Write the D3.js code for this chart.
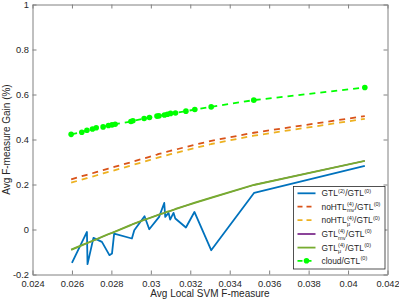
<!DOCTYPE html>
<html>
<head>
<meta charset="utf-8">
<script src="https://cdn.jsdelivr.net/npm/d3@7"></script>
<style>
  html, body { margin: 0; padding: 0; background: #fff; }
  svg { display: block; font-family: "Liberation Sans", Arial, Helvetica, sans-serif; }
</style>
</head>
<body>
<svg id="chart" width="399" height="299"></svg>
<script>
// ---------- data ----------
const xVals = [0.02596, 0.02650, 0.02676, 0.02704, 0.02723, 0.02758, 0.02785, 0.02803, 0.02819,
  0.02899, 0.02909, 0.02966, 0.02993, 0.03031, 0.03041, 0.03069, 0.03084, 0.03100, 0.03125,
  0.03178, 0.03223, 0.03306, 0.03522, 0.04085];
const cloudY = [0.423, 0.432, 0.441, 0.447, 0.452, 0.456, 0.462, 0.465, 0.468, 0.480, 0.483,
  0.493, 0.498, 0.504, 0.505, 0.509, 0.512, 0.516, 0.518, 0.526, 0.533, 0.545, 0.575, 0.631];
const noHtlMvY = [0.223, 0.237, 0.243, 0.250, 0.255, 0.264, 0.271, 0.275, 0.279, 0.299, 0.302,
  0.316, 0.323, 0.333, 0.336, 0.342, 0.346, 0.350, 0.355, 0.367, 0.377, 0.394, 0.430, 0.504];
const noHtlMuY = [0.208, 0.222, 0.228, 0.235, 0.240, 0.249, 0.256, 0.260, 0.264, 0.284, 0.287,
  0.301, 0.308, 0.318, 0.321, 0.327, 0.331, 0.335, 0.340, 0.352, 0.362, 0.380, 0.417, 0.492];
const gtlMvY = [-0.090, -0.070, -0.061, -0.051, -0.044, -0.031, -0.021, -0.015, -0.009, 0.020,
  0.024, 0.043, 0.051, 0.063, 0.066, 0.074, 0.079, 0.083, 0.091, 0.106, 0.119, 0.141, 0.198, 0.305];
const gtlMuY = [-0.090, -0.070, -0.061, -0.051, -0.044, -0.031, -0.021, -0.015, -0.009, 0.020,
  0.024, 0.043, 0.051, 0.063, 0.066, 0.074, 0.079, 0.083, 0.091, 0.106, 0.119, 0.141, 0.198, 0.305];
const gtl2X = [0.02600, 0.02676, 0.02679, 0.02709, 0.02752, 0.02790, 0.02803, 0.02814, 0.02904,
  0.02916, 0.02968, 0.02992, 0.03042, 0.03068, 0.03073, 0.03090, 0.03098, 0.03115, 0.03124,
  0.03178, 0.03221, 0.03306, 0.03524, 0.04085];
const gtl2Y = [-0.148, -0.011, -0.154, -0.037, -0.055, -0.114, -0.107, -0.018, -0.040, -0.003,
  0.059, 0.001, 0.056, 0.118, 0.056, 0.074, 0.044, 0.074, 0.049, 0.009, 0.078, -0.092, 0.163, 0.283];

const xTicks = [0.024, 0.026, 0.028, 0.030, 0.032, 0.034, 0.036, 0.038, 0.040, 0.042];
const xTickLabels = ["0.024", "0.026", "0.028", "0.03", "0.032", "0.034", "0.036", "0.038", "0.04", "0.042"];
const yTicks = [-0.2, 0, 0.2, 0.4, 0.6, 0.8, 1];
const yTickLabels = ["-0.2", "0", "0.2", "0.4", "0.6", "0.8", "1"];

const xLabel = "Avg Local SVM F-measure";
const yLabel = "Avg F-measure Gain (%)";

// ---------- layout ----------
const svg = d3.select("#chart");
const L = 32.5, R = 387.5, T = 4.5, B = 274.5;
const x = d3.scaleLinear().domain([0.024, 0.042]).range([L, R]);
const y = d3.scaleLinear().domain([-0.2, 1]).range([B, T]);
const axisColor = "#808080";
const textColor = "#262626";

const series = [
  { name: "gtl2", xs: gtl2X, ys: gtl2Y, color: "#0072BD", dash: null, marker: false, w: 1.8,
    label: [{ t: "GTL" }, { sup: "(2)" }, { t: "/GTL" }, { sup: "(0)" }] },
  { name: "noMv", xs: xVals, ys: noHtlMvY, color: "#D95319", dash: "6,5", marker: false, w: 1.8,
    label: [{ t: "noHTL" }, { sup: "(4)", sub: "mv" }, { t: "/GTL" }, { sup: "(0)" }] },
  { name: "noMu", xs: xVals, ys: noHtlMuY, color: "#EDB120", dash: "6,5", marker: false, w: 1.8,
    label: [{ t: "noHTL" }, { sup: "(4)", sub: "μ" }, { t: "/GTL" }, { sup: "(0)" }] },
  { name: "gtlMv", xs: xVals, ys: gtlMvY, color: "#7E2F8E", dash: null, marker: false, w: 1.2,
    label: [{ t: "GTL" }, { sup: "(4)", sub: "mv" }, { t: "/GTL" }, { sup: "(0)" }] },
  { name: "gtlMu", xs: xVals, ys: gtlMuY, color: "#77AC30", dash: null, marker: false, w: 1.9,
    label: [{ t: "GTL" }, { sup: "(4)", sub: "μ" }, { t: "/GTL" }, { sup: "(0)" }] },
  { name: "cloud", xs: xVals, ys: cloudY, color: "#00FF00", dash: "6,5", marker: true, w: 1.8,
    label: [{ t: "cloud/GTL" }, { sup: "(0)" }] }
];

// ---------- axes ----------
const g = svg.append("g");
const fmtX = (d, i) => xTickLabels[i];
const fmtY = (d, i) => yTickLabels[i];

const axB = g.append("g").attr("transform", `translate(0,${B})`)
  .call(d3.axisBottom(x).tickValues(xTicks).tickFormat(fmtX).tickSizeInner(-4).tickSizeOuter(0).tickPadding(5.5));
const axT = g.append("g").attr("transform", `translate(0,${T})`)
  .call(d3.axisTop(x).tickValues(xTicks).tickFormat("").tickSizeInner(-4).tickSizeOuter(0));
const axLft = g.append("g").attr("transform", `translate(${L},0)`)
  .call(d3.axisLeft(y).tickValues(yTicks).tickFormat(fmtY).tickSizeInner(-4).tickSizeOuter(0).tickPadding(3.5));
const axRgt = g.append("g").attr("transform", `translate(${R},0)`)
  .call(d3.axisRight(y).tickValues(yTicks).tickFormat("").tickSizeInner(-4).tickSizeOuter(0));

[axB, axT, axLft, axRgt].forEach(a => {
  a.selectAll(".domain").attr("stroke", axisColor).attr("stroke-width", 1);
  a.selectAll(".tick line").attr("stroke", axisColor);
  a.selectAll(".tick text").attr("fill", textColor).style("font-size", "9.3px")
    .style("font-family", "'Liberation Sans', Arial, sans-serif");
});

// axis labels
svg.append("text").attr("x", (L + R) / 2).attr("y", 296.5).attr("text-anchor", "middle")
  .attr("fill", textColor).style("font-size", "10px").text(xLabel);
svg.append("text").attr("transform", `translate(9.5,${(T + B) / 2}) rotate(-90)`)
  .attr("text-anchor", "middle").attr("fill", textColor).style("font-size", "10px").text(yLabel);

// ---------- lines ----------
const plot = svg.append("g");
series.forEach(s => {
  const pts = s.xs.map((v, i) => [v, s.ys[i]]);
  const line = d3.line().x(d => x(d[0])).y(d => y(d[1]));
  plot.append("path").datum(pts).attr("d", line).attr("fill", "none")
    .attr("stroke", s.color).attr("stroke-width", s.w)
    .attr("stroke-dasharray", s.dash).attr("stroke-linejoin", "round");
  if (s.marker) {
    plot.selectAll(null).data(pts).enter().append("circle")
      .attr("cx", d => x(d[0])).attr("cy", d => y(d[1])).attr("r", 2.8).attr("fill", s.color);
  }
});

// ---------- legend ----------
const lg = svg.append("g");
const lgX = 293.5, lgY = 186.5, lgW = 91.5, lgH = 82.5;
lg.append("rect").attr("x", lgX).attr("y", lgY).attr("width", lgW).attr("height", lgH)
  .attr("fill", "#fff").attr("stroke", textColor).attr("stroke-width", 0.8);
const rowY = [193.3, 206.7, 220.2, 234, 247.6, 260.8];
series.forEach((s, i) => {
  const cy = rowY[i];
  lg.append("line").attr("x1", 297.5).attr("x2", 315.5).attr("y1", cy).attr("y2", cy)
    .attr("stroke", s.color).attr("stroke-width", 1.8).attr("stroke-dasharray", s.dash ? "5,4" : null);
  if (s.marker) {
    lg.append("circle").attr("cx", 306.5).attr("cy", cy).attr("r", 2.8).attr("fill", s.color);
  }
  let cx = 321.5;
  const base = cy + 3;
  s.label.forEach(p => {
    if (p.t) {
      const t = lg.append("text").attr("x", cx).attr("y", base).attr("fill", textColor)
        .style("font-size", "8.4px").text(p.t);
      cx += t.node().getComputedTextLength();
    } else {
      let w = 0;
      const su = lg.append("text").attr("x", cx + 0.3).attr("y", base - 3.6).attr("fill", textColor)
        .style("font-size", "5.6px").text(p.sup);
      w = su.node().getComputedTextLength() + 0.6;
      if (p.sub) {
        const sb = lg.append("text").attr("x", cx + 0.3).attr("y", base + 2.6).attr("fill", textColor)
          .style("font-size", "5.6px").text(p.sub);
        w = Math.max(w, sb.node().getComputedTextLength() + 0.6);
      }
      cx += w;
    }
  });
});
</script>
</body>
</html>
